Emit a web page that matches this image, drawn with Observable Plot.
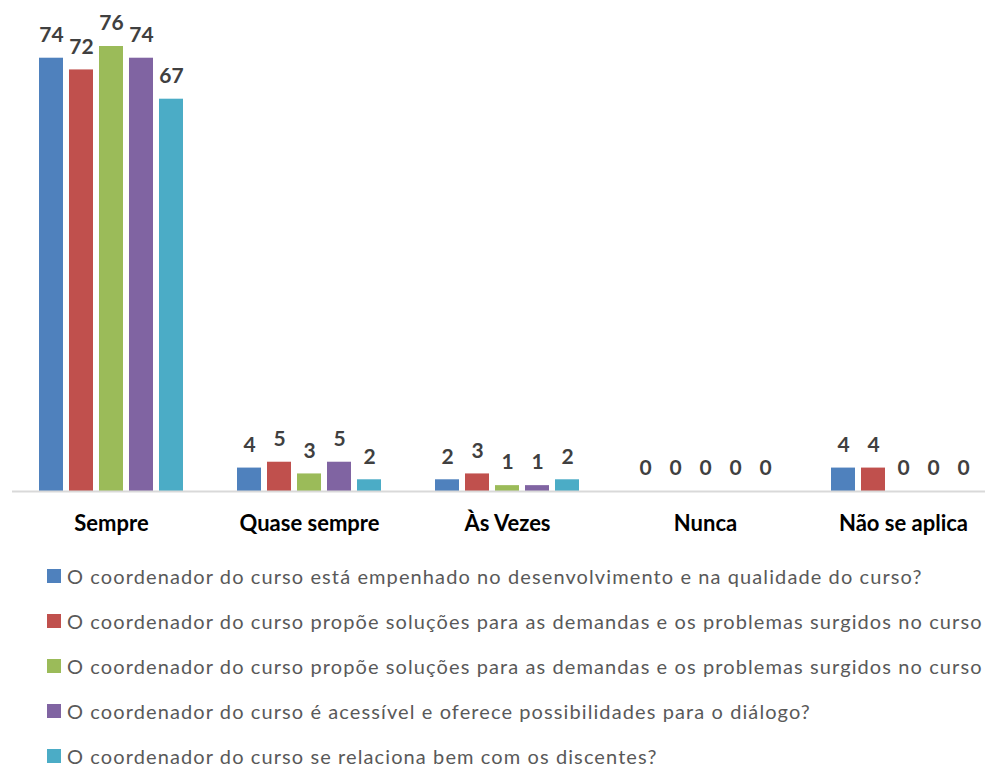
<!DOCTYPE html>
<html>
<head>
<meta charset="utf-8">
<script src="https://cdn.jsdelivr.net/npm/d3@7"></script>
<script src="https://cdn.jsdelivr.net/npm/@observablehq/plot@0.6"></script>
<style>
  body { margin: 0; background: #fff; font-family: Lato, "Open Sans", sans-serif; overflow: hidden; }
  #legend { padding-top: 17px; }
  .item { height: 18px; margin-bottom: 27px; display: flex; align-items: center; padding-left: 47px;
          white-space: nowrap; font-size: 20px; line-height: 1; letter-spacing: 1.1px; color: #595959; }
  .item:last-child { margin-bottom: 0; }
  .sw { width: 14px; height: 14px; margin-right: 6px; flex: none; }
</style>
</head>
<body>
<div id="chart"></div>
<div id="legend"></div>
<script>
const categories = ["Sempre", "Quase sempre", "Às Vezes", "Nunca", "Não se aplica"];
const seriesLabels = [
  "O coordenador do curso está empenhado no desenvolvimento e na qualidade do curso?",
  "O coordenador do curso propõe soluções para as demandas e os problemas surgidos no curso",
  "O coordenador do curso propõe soluções para as demandas e os problemas surgidos no curso",
  "O coordenador do curso é acessível e oferece possibilidades para o diálogo?",
  "O coordenador do curso se relaciona bem com os discentes?"
];
const s1 = [74, 4, 2, 0, 4];
const s2 = [72, 5, 3, 0, 4];
const s3 = [76, 3, 1, 0, 0];
const s4 = [74, 5, 1, 0, 0];
const s5 = [67, 2, 2, 0, 0];
const colors = ["#4F81BD", "#C0504D", "#9BBB59", "#8064A2", "#4BACC6"];

const seriesValues = [s1, s2, s3, s4, s5];
const idx = seriesValues.map((_, i) => i);
const data = [];
categories.forEach((c, ci) => {
  seriesValues.forEach((vals, si) => data.push({cat: c, s: si, v: vals[ci]}));
});

const chart = Plot.plot({
  width: 985,
  height: 550,
  marginLeft: 10,
  marginRight: -18,
  marginTop: 46,
  marginBottom: 59,
  style: {fontFamily: "Lato, 'Open Sans', sans-serif", color: "black", background: "white"},
  fx: {domain: categories, padding: 0, axis: null},
  x: {domain: idx, paddingInner: 0.2, paddingOuter: 0.8, axis: null},
  y: {domain: [0, 76], axis: null},
  color: {domain: idx, range: colors},
  marks: [
    Plot.barY(data, {fx: "cat", x: "s", y: "v", fill: "s"}),
    Plot.ruleY([0], {stroke: "#d9d9d9", strokeWidth: 2}),
    Plot.text(data, {fx: "cat", x: "s", y: "v", text: d => String(d.v), dy: -23,
      fill: "#404040", fontSize: 21, fontWeight: "bold"}),
    Plot.axisFx({anchor: "bottom", tickSize: 0, tickPadding: 24, fontSize: 22,
      fontWeight: "bold", label: null})
  ]
});
document.getElementById("chart").appendChild(chart);

const legend = document.getElementById("legend");
seriesLabels.forEach((lab, i) => {
  const row = document.createElement("div");
  row.className = "item";
  const sw = document.createElement("span");
  sw.className = "sw";
  sw.style.background = colors[i];
  const t = document.createElement("span");
  t.textContent = lab;
  row.appendChild(sw);
  row.appendChild(t);
  legend.appendChild(row);
});
</script>
</body>
</html>
